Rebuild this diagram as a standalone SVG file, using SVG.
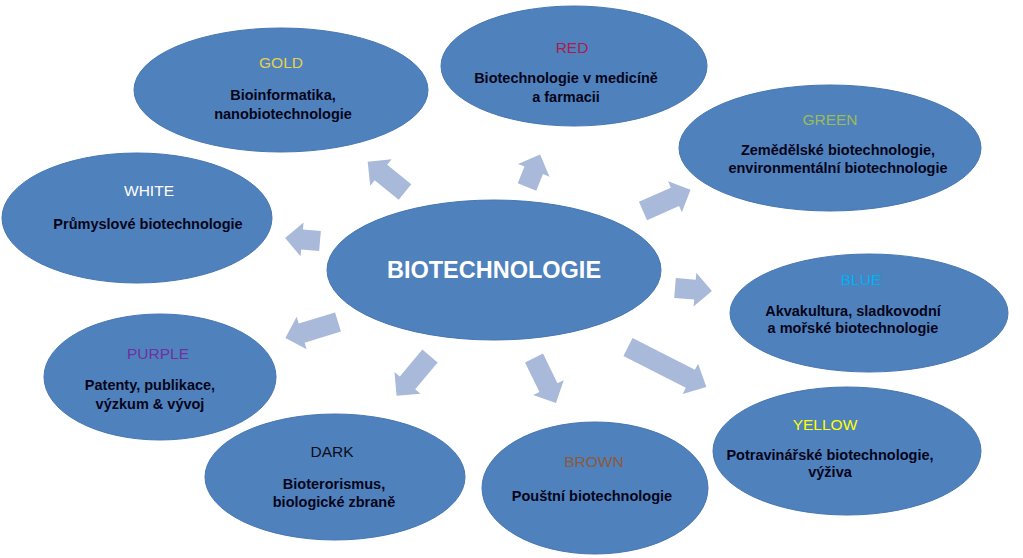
<svg xmlns="http://www.w3.org/2000/svg" width="1023" height="558" viewBox="0 0 1023 558">
<style>
.bub{fill:#4f81bd;stroke:#4677b3;stroke-width:1}
.arr{fill:#a8b9d9}
.hd{font-family:"Liberation Sans",Arial,sans-serif;font-size:15.5px;text-anchor:middle}
.bd{font-family:"Liberation Sans",Arial,sans-serif;font-size:14.5px;font-weight:bold;text-anchor:middle;fill:#05051a}
.main{font-family:"Liberation Sans",Arial,sans-serif;font-size:23.5px;font-weight:bold;text-anchor:middle;fill:#ffffff}
</style>
<rect width="1023" height="558" fill="#ffffff"/>
<g id="connectors">
<path class="arr" transform="translate(405,192) rotate(-141)" d="M0,-10 L31,-10 L31,-17 L48,0 L31,17 L31,10 L0,10 Z"/>
<path class="arr" transform="translate(320,241) rotate(-175)" d="M0,-10 L18,-10 L18,-17 L35,0 L18,17 L18,10 L0,10 Z"/>
<path class="arr" transform="translate(527,187) rotate(-68)" d="M0,-10 L18,-10 L18,-17 L35,0 L18,17 L18,10 L0,10 Z"/>
<path class="arr" transform="translate(643,211) rotate(-24)" d="M0,-10 L35,-10 L35,-17 L52,0 L35,17 L35,10 L0,10 Z"/>
<path class="arr" transform="translate(675,288) rotate(4.6)" d="M0,-10 L20,-10 L20,-17 L37,0 L20,17 L20,10 L0,10 Z"/>
<path class="arr" transform="translate(628,347) rotate(27)" d="M0,-10 L70,-10 L70,-17 L88,0 L70,17 L70,10 L0,10 Z"/>
<path class="arr" transform="translate(338,322) rotate(163)" d="M0,-10 L38,-10 L38,-17 L55,0 L38,17 L38,10 L0,10 Z"/>
<path class="arr" transform="translate(430,356) rotate(130)" d="M0,-10 L35,-10 L35,-17 L52,0 L35,17 L35,10 L0,10 Z"/>
<path class="arr" transform="translate(534,358) rotate(64)" d="M0,-10 L33,-10 L33,-17 L50,0 L33,17 L33,10 L0,10 Z"/>
</g>
<g id="center">
<ellipse class="bub" cx="494" cy="270" rx="167" ry="70"/>
<text class="main" x="494" y="278">BIOTECHNOLOGIE</text>
</g>
<g id="gold">
<ellipse class="bub" cx="281" cy="90" rx="147" ry="62"/>
<text class="hd" x="281" y="68" fill="#e6d04c">GOLD</text>
<text class="bd" x="283" y="100">Bioinformatika,</text>
<text class="bd" x="283" y="119">nanobiotechnologie</text>
</g>
<g id="red">
<ellipse class="bub" cx="574" cy="66" rx="133" ry="60"/>
<text class="hd" x="572" y="53" fill="#a8204a">RED</text>
<text class="bd" x="566" y="83">Biotechnologie v medicíně</text>
<text class="bd" x="566" y="102">a farmacii</text>
</g>
<g id="green">
<ellipse class="bub" cx="830" cy="148" rx="151" ry="63"/>
<text class="hd" x="830" y="125" fill="#9bbb59">GREEN</text>
<text class="bd" x="838" y="155">Zemědělské biotechnologie,</text>
<text class="bd" x="838" y="173">environmentální biotechnologie</text>
</g>
<g id="white">
<ellipse class="bub" cx="137" cy="218" rx="135" ry="65"/>
<text class="hd" x="149" y="196" fill="#ffffff">WHITE</text>
<text class="bd" x="148" y="229">Průmyslové biotechnologie</text>
</g>
<g id="blue">
<ellipse class="bub" cx="869" cy="313" rx="139" ry="59"/>
<text class="hd" x="861" y="285" fill="#00b0f0">BLUE</text>
<text class="bd" x="853" y="316">Akvakultura, sladkovodní</text>
<text class="bd" x="853" y="333">a mořské biotechnologie</text>
</g>
<g id="purple">
<ellipse class="bub" cx="160" cy="377" rx="116" ry="63"/>
<text class="hd" x="158" y="359" fill="#7030a0">PURPLE</text>
<text class="bd" x="150" y="390">Patenty, publikace,</text>
<text class="bd" x="150" y="409">výzkum &amp; vývoj</text>
</g>
<g id="dark">
<ellipse class="bub" cx="335" cy="477" rx="130" ry="63"/>
<text class="hd" x="332" y="457" fill="#0d0d1a">DARK</text>
<text class="bd" x="334" y="489">Bioterorismus,</text>
<text class="bd" x="334" y="507">biologické zbraně</text>
</g>
<g id="brown">
<ellipse class="bub" cx="595" cy="488" rx="113" ry="66"/>
<text class="hd" x="594" y="467" fill="#8b5a3c">BROWN</text>
<text class="bd" x="592" y="501">Pouštní biotechnologie</text>
</g>
<g id="yellow">
<ellipse class="bub" cx="847" cy="451" rx="134" ry="64"/>
<text class="hd" x="825" y="430" fill="#ffff00">YELLOW</text>
<text class="bd" x="830" y="460">Potravinářské biotechnologie,</text>
<text class="bd" x="830" y="477">výživa</text>
</g>
</svg>
